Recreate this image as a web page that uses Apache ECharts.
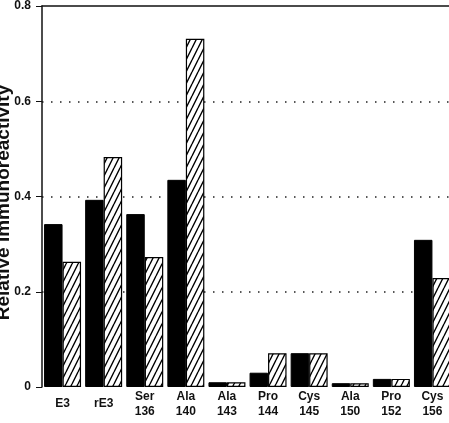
<!DOCTYPE html>
<html>
<head>
    <meta charset="utf-8">
    <title>Relative immunoreactivity</title>
    <script src="https://cdn.jsdelivr.net/npm/echarts@6/dist/echarts.min.js"></script>
    <style>
        html, body { margin: 0; padding: 0; background: #fff; }
        #container { width: 449px; height: 423px; }
    </style>
</head>
<body>
    <div id="container"></div>
    <script>
        // data
        var categories = ['E3', 'rE3', 'Ser\n136', 'Ala\n140', 'Ala\n143', 'Pro\n144', 'Cys\n145', 'Ala\n150', 'Pro\n152', 'Cys\n156'];
        var solidValues = [0.342, 0.393, 0.363, 0.435, 0.010, 0.030, 0.071, 0.008, 0.017, 0.309];
        var hatchedValues = [0.263, 0.483, 0.273, 0.731, 0.010, 0.071, 0.071, 0.008, 0.017, 0.229];
        var yTicks = ['0', '0.2', '0.4', '0.6', '0.8'];

        // diagonal hatch tile
        var tile = document.createElement('canvas');
        tile.width = 6;
        tile.height = 12;
        var ctx = tile.getContext('2d');
        ctx.fillStyle = '#fff';
        ctx.fillRect(0, 0, 6, 12);
        ctx.strokeStyle = '#000';
        ctx.lineWidth = 1.4;
        ctx.beginPath();
        ctx.moveTo(-6, 12); ctx.lineTo(0, 0);
        ctx.moveTo(0, 12); ctx.lineTo(6, 0);
        ctx.moveTo(6, 12); ctx.lineTo(12, 0);
        ctx.stroke();

        var dom = document.getElementById('container');
        var myChart = echarts.init(dom);

        var option = {
            animation: false,
            textStyle: { fontFamily: 'Liberation Sans, Arial, sans-serif' },
            grid: { left: 42, top: 6, width: 411, height: 381, outerBoundsMode: 'none', containLabel: false },
            xAxis: [
                {
                    type: 'category',
                    data: categories,
                    axisLine: { show: false },
                    axisTick: { show: false },
                    axisLabel: {
                        margin: 2,
                        interval: 0,
                        color: '#111',
                        fontSize: 12,
                        fontWeight: 'bold',
                        formatter: function (v) {
                            if (v.indexOf('\n') < 0) {
                                return '{one|' + v + '}';
                            }
                            return '{two|' + v.replace('\n', '}\n{two|') + '}';
                        },
                        rich: {
                            one: { lineHeight: 30, fontSize: 12, fontWeight: 'bold', color: '#111' },
                            two: { lineHeight: 15, fontSize: 12, fontWeight: 'bold', color: '#111' }
                        }
                    }
                },
                {
                    type: 'category',
                    position: 'top',
                    data: categories,
                    axisLine: { show: true, lineStyle: { color: '#111', width: 1.5 } },
                    axisTick: { show: false },
                    axisLabel: { show: false }
                }
            ],
            yAxis: {
                type: 'value',
                min: 0,
                max: 0.8,
                interval: 0.2,
                name: 'Relative immunoreactivity',
                nameLocation: 'middle',
                nameGap: 29,
                nameMoveOverlap: false,
                nameTextStyle: { fontSize: 19, fontWeight: 'bold', color: '#111', padding: [0, 12, 0, 0] },
                axisLine: { show: true, lineStyle: { color: '#111', width: 1.5 } },
                axisTick: { show: true, length: 6, lineStyle: { color: '#111', width: 1 } },
                axisLabel: {
                    margin: 11,
                    color: '#111',
                    fontSize: 12,
                    fontWeight: 'bold',
                    formatter: function (v) {
                        return yTicks[Math.round(v / 0.2)];
                    }
                },
                splitLine: {
                    show: true,
                    showMinLine: false,
                    showMaxLine: false,
                    lineStyle: { color: '#222', width: 1.5, type: [1.5, 7.5] }
                }
            },
            series: [
                {
                    type: 'bar',
                    data: solidValues,
                    barGap: '0%',
                    barCategoryGap: '10%',
                    itemStyle: { color: '#000', borderColor: '#000', borderWidth: 1 }
                },
                {
                    type: 'bar',
                    data: hatchedValues,
                    barGap: '0%',
                    barCategoryGap: '10%',
                    itemStyle: {
                        color: { image: tile, repeat: 'repeat' },
                        borderColor: '#000',
                        borderWidth: 1.2
                    }
                }
            ]
        };

        myChart.setOption(option);
    </script>
</body>
</html>
